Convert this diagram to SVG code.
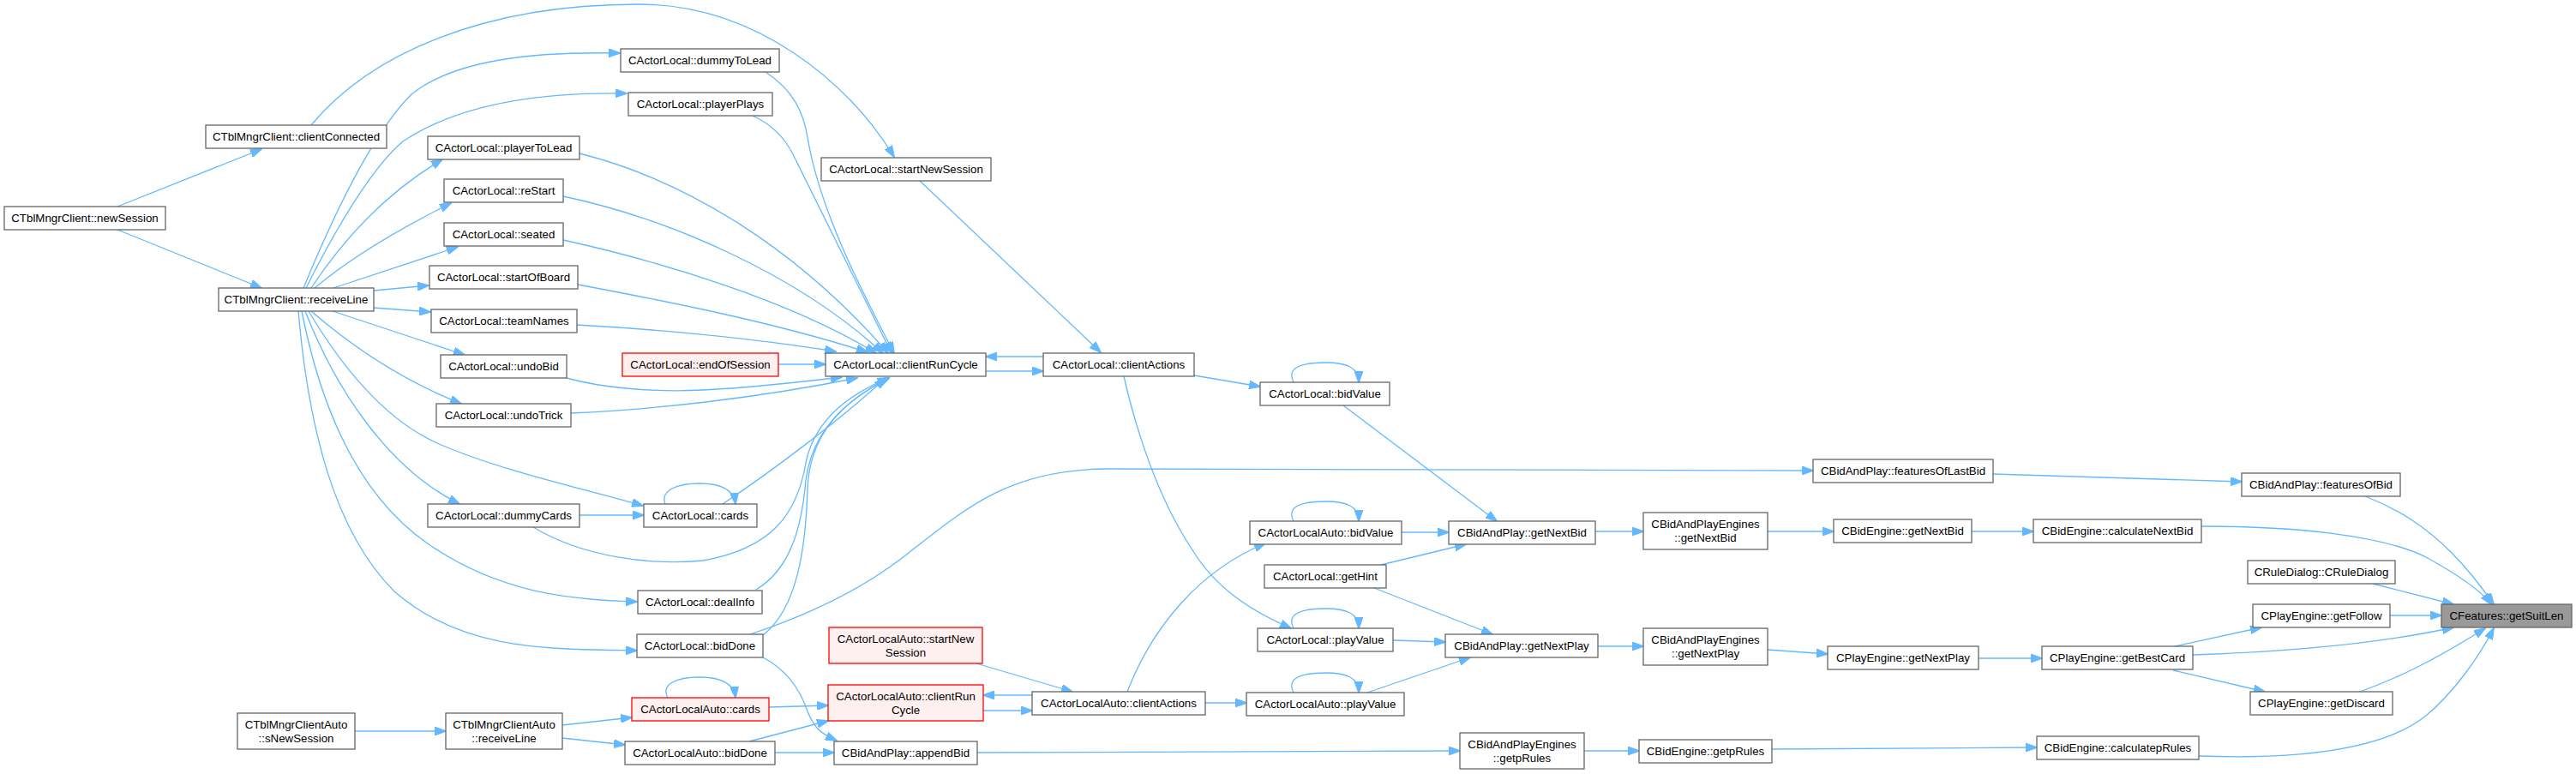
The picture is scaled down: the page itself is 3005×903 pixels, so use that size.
<svg xmlns="http://www.w3.org/2000/svg" width="3005" height="903" viewBox="0 0 3005 903">
<style>
.node rect{fill:#ffffff;stroke:#666666;stroke-width:1.3}
.node.red rect{fill:#fff0f0;stroke:#ff0000}
.node.root rect{fill:#999999;stroke:#666666}
.node text{font-family:"Liberation Sans",Arial,Helvetica,sans-serif;font-size:13.3px;fill:#000000;text-anchor:middle}
.edges path{fill:none;stroke:#63b8ff;stroke-width:1.3;marker-end:url(#arr)}
</style>
<defs>
<marker id="arr" markerWidth="14" markerHeight="10" refX="13" refY="5" orient="auto" markerUnits="userSpaceOnUse">
<path d="M0,0 L14,5 L0,10 z" fill="#63b8ff" stroke="#63b8ff" stroke-width="1"/>
</marker>
</defs>
<rect x="0" y="0" width="3005" height="903" fill="#ffffff"/>
<g id="edges" class="edges">
<path d="M137,241 L305,174"/>
<path d="M137,268 L305,336"/>
<path d="M363,146 C430,65 560,5 745,5 C880,5 990,95 1043,183"/>
<path d="M354,336 C410,200 450,140 480,110 C530,70 620,60 723,62"/>
<path d="M357,336 C400,250 440,190 470,165 C530,125 620,107 731,109"/>
<path d="M363,336 C400,280 450,225 516,186"/>
<path d="M367,336 C410,300 470,265 526,237"/>
<path d="M389,336 L534,288"/>
<path d="M436,339 L500,333"/>
<path d="M436,359 L502,364"/>
<path d="M388,363 L542,414"/>
<path d="M363,363 C400,395 460,440 538,471"/>
<path d="M360,363 C400,430 450,490 510,517 C580,548 680,570 750,590"/>
<path d="M356,363 C390,450 450,545 536,588"/>
<path d="M352,363 C375,480 420,580 500,635 C580,690 660,700 743,702"/>
<path d="M348,363 C360,500 390,620 460,690 C540,760 640,757 743,759"/>
<path d="M893,84 C925,105 937,130 942,160 C955,240 1000,330 1043,412"/>
<path d="M878,135 C900,145 915,160 925,180 C960,250 1000,330 1040,412"/>
<path d="M676,179 C800,210 930,290 1036,412"/>
<path d="M657,229 C780,255 930,320 1030,412"/>
<path d="M657,280 C770,305 920,350 1022,412"/>
<path d="M674,332 C770,350 900,375 1012,411"/>
<path d="M673,379 C780,385 880,395 975,410"/>
<path d="M908,425 L963,425"/>
<path d="M661,441 C700,452 760,458 820,455 C880,452 940,445 982,440"/>
<path d="M666,482 C760,478 880,465 1000,441"/>
<path d="M843,588 C900,550 980,490 1033,441"/>
<path d="M776,588 C770,572 790,564 816,564 C840,564 856,570 858,588"/>
<path d="M676,601 L751,601"/>
<path d="M622,615 C680,650 760,660 820,654 C900,640 930,600 940,540 C950,490 990,460 1037,441"/>
<path d="M882,688 C920,665 935,620 940,560 C948,500 990,465 1037,441"/>
<path d="M890,741 C930,710 940,640 942,570 C945,500 990,465 1037,441"/>
<path d="M1073,211 L1284,411"/>
<path d="M1217,416 L1150,416"/>
<path d="M1150,433 L1217,433"/>
<path d="M1393,438 L1470,451"/>
<path d="M1311,439 C1325,500 1350,580 1390,640 C1420,690 1465,715 1506,733"/>
<path d="M1509,446 C1500,428 1520,423 1546,423 C1570,423 1585,428 1585,446"/>
<path d="M1567,473 L1746,608"/>
<path d="M875,740 C950,715 1010,685 1060,645 C1130,590 1180,548 1290,547 L2115,549"/>
<path d="M890,767 C915,780 932,800 942,830 C950,850 958,856 976,864"/>
<path d="M414,853 L520,853"/>
<path d="M656,846 L737,837"/>
<path d="M656,861 L729,869"/>
<path d="M779,814 C770,798 790,790 816,790 C840,790 856,796 858,814"/>
<path d="M897,825 L966,823"/>
<path d="M874,865 L966,841"/>
<path d="M904,878 L973,878"/>
<path d="M1139,774 L1251,807"/>
<path d="M1204,811 L1147,811"/>
<path d="M1147,829 L1204,829"/>
<path d="M1315,807 C1345,730 1400,665 1476,634"/>
<path d="M1406,820 L1454,820"/>
<path d="M1509,608 C1500,590 1520,585 1546,585 C1570,585 1585,590 1585,608"/>
<path d="M1509,733 C1500,715 1520,710 1546,710 C1570,710 1585,715 1585,733"/>
<path d="M1509,808 C1500,790 1520,785 1546,785 C1570,785 1585,790 1585,808"/>
<path d="M1635,621 L1690,621"/>
<path d="M1611,659 L1710,635"/>
<path d="M1603,686 L1741,740"/>
<path d="M1625,747 L1686,749"/>
<path d="M1595,808 L1715,767"/>
<path d="M1140,878 L1703,876"/>
<path d="M1861,620 L1917,620"/>
<path d="M2062,620 L2139,620"/>
<path d="M2300,620 L2372,620"/>
<path d="M2568,614 C2680,614 2780,625 2830,650 C2870,672 2895,690 2906,705"/>
<path d="M1864,754 L1917,754"/>
<path d="M2062,758 L2132,763"/>
<path d="M2308,768 L2382,768"/>
<path d="M2558,764 C2680,760 2780,750 2862,732"/>
<path d="M2537,754 L2638,732"/>
<path d="M2535,782 L2642,807"/>
<path d="M1848,876 L1912,876"/>
<path d="M2067,874 L2376,872"/>
<path d="M2565,882 C2680,886 2780,875 2830,835 C2860,810 2890,770 2909,733"/>
<path d="M2325,553 L2615,562"/>
<path d="M2759,579 C2800,595 2830,615 2860,645 C2880,665 2895,685 2909,705"/>
<path d="M2768,681 L2862,705"/>
<path d="M2788,718 L2848,718"/>
<path d="M2753,807 C2800,790 2840,770 2899,733"/>
</g>
<g id="n_newSession" class="node"><rect x="5" y="241" width="188" height="27"/><text x="99" y="259">CTblMngrClient::newSession</text></g>
<g id="n_clientConnected" class="node"><rect x="240" y="146" width="211" height="27"/><text x="345.5" y="164">CTblMngrClient::clientConnected</text></g>
<g id="n_receiveLine" class="node"><rect x="255" y="336" width="181" height="27"/><text x="345.5" y="354">CTblMngrClient::receiveLine</text></g>
<g id="n_dummyToLead" class="node"><rect x="724" y="57" width="185" height="27"/><text x="816.5" y="75">CActorLocal::dummyToLead</text></g>
<g id="n_playerPlays" class="node"><rect x="733" y="108" width="168" height="27"/><text x="817" y="126">CActorLocal::playerPlays</text></g>
<g id="n_playerToLead" class="node"><rect x="499" y="159" width="177" height="27"/><text x="587.5" y="177">CActorLocal::playerToLead</text></g>
<g id="n_reStart" class="node"><rect x="518" y="209" width="139" height="27"/><text x="587.5" y="227">CActorLocal::reStart</text></g>
<g id="n_seated" class="node"><rect x="518" y="260" width="139" height="27"/><text x="587.5" y="278">CActorLocal::seated</text></g>
<g id="n_startOfBoard" class="node"><rect x="501" y="310" width="173" height="27"/><text x="587.5" y="328">CActorLocal::startOfBoard</text></g>
<g id="n_teamNames" class="node"><rect x="503" y="361" width="170" height="27"/><text x="588" y="379">CActorLocal::teamNames</text></g>
<g id="n_undoBid" class="node"><rect x="514" y="414" width="147" height="27"/><text x="587.5" y="432">CActorLocal::undoBid</text></g>
<g id="n_undoTrick" class="node"><rect x="509" y="471" width="157" height="27"/><text x="587.5" y="489">CActorLocal::undoTrick</text></g>
<g id="n_dummyCards" class="node"><rect x="499" y="588" width="177" height="27"/><text x="587.5" y="606">CActorLocal::dummyCards</text></g>
<g id="n_cards" class="node"><rect x="751" y="588" width="132" height="27"/><text x="817" y="606">CActorLocal::cards</text></g>
<g id="n_dealInfo" class="node"><rect x="744" y="689" width="145" height="27"/><text x="816.5" y="707">CActorLocal::dealInfo</text></g>
<g id="n_bidDone" class="node"><rect x="743" y="740" width="147" height="27"/><text x="816.5" y="758">CActorLocal::bidDone</text></g>
<g id="n_endOfSession" class="node red"><rect x="726" y="412" width="182" height="27"/><text x="817" y="430">CActorLocal::endOfSession</text></g>
<g id="n_clientRunCycle" class="node"><rect x="963" y="412" width="187" height="27"/><text x="1056.5" y="430">CActorLocal::clientRunCycle</text></g>
<g id="n_startNewSession" class="node"><rect x="958" y="184" width="198" height="27"/><text x="1057" y="202">CActorLocal::startNewSession</text></g>
<g id="n_clientActions" class="node"><rect x="1217" y="412" width="176" height="27"/><text x="1305" y="430">CActorLocal::clientActions</text></g>
<g id="n_bidValue" class="node"><rect x="1470" y="446" width="151" height="27"/><text x="1545.5" y="464">CActorLocal::bidValue</text></g>
<g id="n_sNewSession" class="node"><rect x="277" y="832" width="137" height="42"/><text x="345.5" y="849.5">CTblMngrClientAuto</text><text x="345.5" y="865.5">::sNewSession</text></g>
<g id="n_autoReceiveLine" class="node"><rect x="520" y="832" width="136" height="42"/><text x="588" y="849.5">CTblMngrClientAuto</text><text x="588" y="865.5">::receiveLine</text></g>
<g id="n_autoCards" class="node red"><rect x="737" y="814" width="160" height="27"/><text x="817" y="832">CActorLocalAuto::cards</text></g>
<g id="n_autoBidDone" class="node"><rect x="729" y="865" width="175" height="27"/><text x="816.5" y="883">CActorLocalAuto::bidDone</text></g>
<g id="n_autoStartNewSession" class="node red"><rect x="967" y="732" width="179" height="42"/><text x="1056.5" y="749.5">CActorLocalAuto::startNew</text><text x="1056.5" y="765.5">Session</text></g>
<g id="n_autoClientRunCycle" class="node red"><rect x="966" y="799" width="181" height="42"/><text x="1056.5" y="816.5">CActorLocalAuto::clientRun</text><text x="1056.5" y="832.5">Cycle</text></g>
<g id="n_autoClientActions" class="node"><rect x="1204" y="807" width="202" height="27"/><text x="1305" y="825">CActorLocalAuto::clientActions</text></g>
<g id="n_appendBid" class="node"><rect x="973" y="865" width="167" height="27"/><text x="1056.5" y="883">CBidAndPlay::appendBid</text></g>
<g id="n_autoBidValue" class="node"><rect x="1458" y="608" width="177" height="27"/><text x="1546.5" y="626">CActorLocalAuto::bidValue</text></g>
<g id="n_getHint" class="node"><rect x="1475" y="659" width="142" height="27"/><text x="1546" y="677">CActorLocal::getHint</text></g>
<g id="n_playValue" class="node"><rect x="1467" y="733" width="158" height="27"/><text x="1546" y="751">CActorLocal::playValue</text></g>
<g id="n_autoPlayValue" class="node"><rect x="1454" y="808" width="184" height="27"/><text x="1546" y="826">CActorLocalAuto::playValue</text></g>
<g id="n_getNextBid" class="node"><rect x="1690" y="608" width="171" height="27"/><text x="1775.5" y="626">CBidAndPlay::getNextBid</text></g>
<g id="n_getNextPlay" class="node"><rect x="1686" y="740" width="178" height="27"/><text x="1775" y="758">CBidAndPlay::getNextPlay</text></g>
<g id="n_bapeGetNextBid" class="node"><rect x="1917" y="598" width="145" height="43"/><text x="1989.5" y="616">CBidAndPlayEngines</text><text x="1989.5" y="632">::getNextBid</text></g>
<g id="n_bapeGetNextPlay" class="node"><rect x="1917" y="733" width="145" height="43"/><text x="1989.5" y="751">CBidAndPlayEngines</text><text x="1989.5" y="767">::getNextPlay</text></g>
<g id="n_bapeGetpRules" class="node"><rect x="1703" y="855" width="145" height="42"/><text x="1775.5" y="872.5">CBidAndPlayEngines</text><text x="1775.5" y="888.5">::getpRules</text></g>
<g id="n_featuresOfLastBid" class="node"><rect x="2115" y="536" width="210" height="27"/><text x="2220" y="554">CBidAndPlay::featuresOfLastBid</text></g>
<g id="n_beGetNextBid" class="node"><rect x="2139" y="606" width="161" height="27"/><text x="2219.5" y="624">CBidEngine::getNextBid</text></g>
<g id="n_peGetNextPlay" class="node"><rect x="2132" y="754" width="176" height="27"/><text x="2220" y="772">CPlayEngine::getNextPlay</text></g>
<g id="n_beGetpRules" class="node"><rect x="1912" y="863" width="155" height="27"/><text x="1989.5" y="881">CBidEngine::getpRules</text></g>
<g id="n_calculateNextBid" class="node"><rect x="2372" y="606" width="196" height="27"/><text x="2470" y="624">CBidEngine::calculateNextBid</text></g>
<g id="n_getBestCard" class="node"><rect x="2382" y="754" width="176" height="27"/><text x="2470" y="772">CPlayEngine::getBestCard</text></g>
<g id="n_calculatepRules" class="node"><rect x="2376" y="859" width="189" height="27"/><text x="2470.5" y="877">CBidEngine::calculatepRules</text></g>
<g id="n_featuresOfBid" class="node"><rect x="2615" y="552" width="185" height="27"/><text x="2707.5" y="570">CBidAndPlay::featuresOfBid</text></g>
<g id="n_CRuleDialog" class="node"><rect x="2622" y="654" width="172" height="27"/><text x="2708" y="672">CRuleDialog::CRuleDialog</text></g>
<g id="n_getFollow" class="node"><rect x="2628" y="705" width="160" height="27"/><text x="2708" y="723">CPlayEngine::getFollow</text></g>
<g id="n_getDiscard" class="node"><rect x="2625" y="807" width="166" height="27"/><text x="2708" y="825">CPlayEngine::getDiscard</text></g>
<g id="n_getSuitLen" class="node root"><rect x="2848" y="705" width="152" height="27"/><text x="2924" y="723">CFeatures::getSuitLen</text></g>
</svg>
